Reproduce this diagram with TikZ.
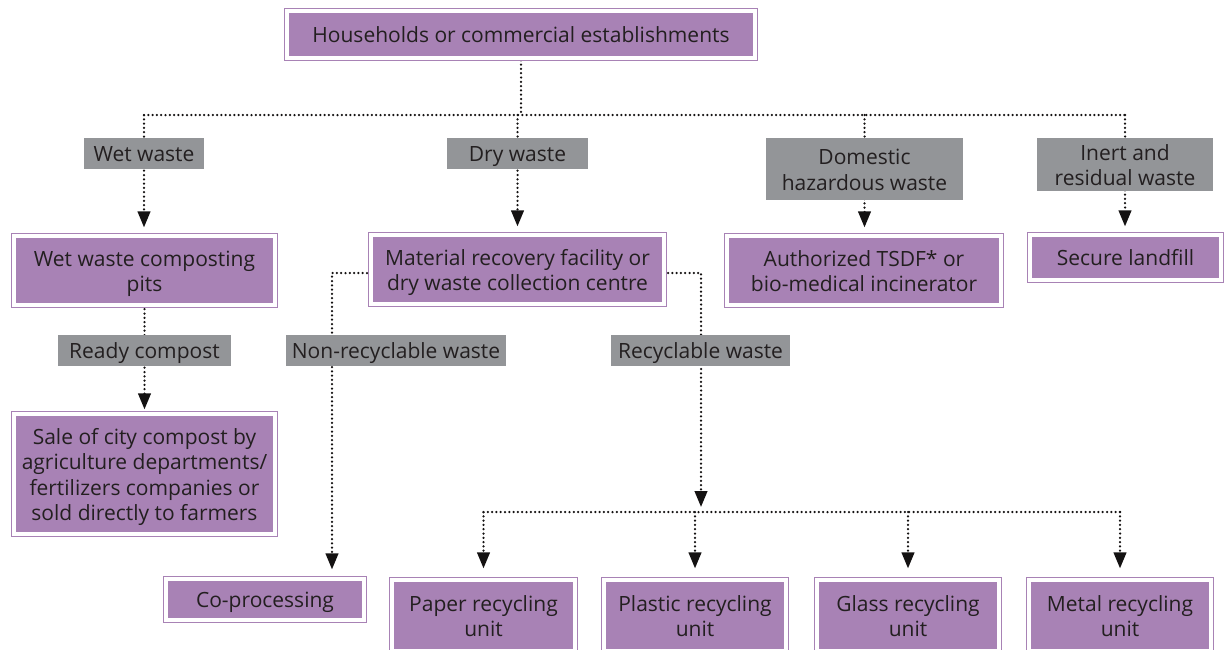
\documentclass[tikz,border=0pt]{standalone}
\usepackage{fontspec}
\setmainfont{Open Sans}
\usetikzlibrary{arrows.meta,backgrounds}
\definecolor{pur}{RGB}{168,130,181}
\definecolor{gry}{RGB}{147,149,152}
\definecolor{txt}{RGB}{35,31,32}
\definecolor{dotc}{RGB}{20,18,18}
\newcommand\Tx[1]{\raisebox{-3.2pt}[\height][\depth]{\begin{tabular}{@{}c@{}}#1\end{tabular}}}
\begin{document}
\begin{tikzpicture}[x=1pt,y=-1pt,
  every node/.style={font=\fontsize{21pt}{25.5pt}\selectfont, text=txt, inner sep=0pt},
  pbox/.style={fill=pur, draw=pur, line width=1.2pt, double=white, double distance=3.5pt},
  gbox/.style={fill=gry},
  dotl/.style={draw=dotc, line width=2.5pt, dash pattern=on 0pt off 4.3pt, line cap=round},
  arr/.style={dotl, -{Triangle[width=12.5pt,length=16pt]}},
]
\useasboundingbox (0,0) rectangle (1230,649);
\clip (0,0) rectangle (1230,649);

% purple boxes
\node[pbox, minimum width=468pt, minimum height=47pt] (top) at (521,34.5) {\Tx{Households or commercial establishments}};
\node[pbox, minimum width=261pt, minimum height=69pt] (wetpit) at (144.5,270.5) {\Tx{Wet waste composting\\pits}};
\node[pbox, minimum width=293pt, minimum height=69pt] (mrf) at (517.5,269.5) {\Tx{Material recovery facility or\\dry waste collection centre}};
\node[pbox, minimum width=274pt, minimum height=69pt] (tsdf) at (864,270.5) {\Tx{Authorized TSDF* or\\bio-medical incinerator}};
\node[pbox, minimum width=191pt, minimum height=45pt] (landfill) at (1125.5,257.5) {\Tx{Secure landfill}};
\node[pbox, minimum width=261pt, minimum height=120pt] (sale) at (144.5,474) {\Tx{Sale of city compost by\\agriculture departments/\\fertilizers companies or\\sold directly to farmers}};
\node[pbox, minimum width=198pt, minimum height=41pt] (coproc) at (265,599.5) {\raisebox{-2pt}{\Tx{Co-processing}}};
\node[pbox, minimum width=183pt, minimum height=71pt] (paper) at (483.5,615.5) {\Tx{Paper recycling\\unit}};
\node[pbox, minimum width=182pt, minimum height=71pt] (plastic) at (695,615.5) {\Tx{Plastic recycling\\unit}};
\node[pbox, minimum width=182pt, minimum height=71pt] (glass) at (908,615.5) {\Tx{Glass recycling\\unit}};
\node[pbox, minimum width=182pt, minimum height=71pt] (metal) at (1120,615.5) {\Tx{Metal recycling\\unit}};

% grey labels
\node[gbox, minimum width=120pt, minimum height=31pt] (wet) at (144,153.5) {\Tx{Wet waste}};
\node[gbox, minimum width=141pt, minimum height=31pt] (dry) at (517.5,153.5) {\Tx{Dry waste}};
\node[gbox, minimum width=197pt, minimum height=62pt] (haz) at (864.5,169) {\Tx{Domestic\\hazardous waste}};
\node[gbox, minimum width=176pt, minimum height=53pt] (inert) at (1125,164.5) {\Tx{Inert and\\residual waste}};
\node[gbox, minimum width=173pt, minimum height=31pt] (ready) at (144.5,350.5) {\Tx{Ready compost}};
\node[gbox, minimum width=220pt, minimum height=31pt] (nonrec) at (396,350.5) {\Tx{Non-recyclable waste}};
\node[gbox, minimum width=179pt, minimum height=31pt] (rec) at (700.5,350.5) {\Tx{Recyclable waste}};

\begin{scope}[on background layer]
\coordinate (busA) at (0,115);
\coordinate (nrx) at (332,273);
\coordinate (rx) at (701,273);
\coordinate (busB) at (0,512);
\draw[dotl] (top.center) -- (top.center |- busA);
\draw[dotl] (wet.center |- busA) -- (inert.center |- busA);
\draw[dotl] (wet.center |- busA) -- (wet.center);
\draw[dotl] (dry.center |- busA) -- (dry.center);
\draw[dotl] (haz.center |- busA) -- (haz.center);
\draw[dotl] (inert.center |- busA) -- (inert.center);
\draw[arr, shorten >=8pt] (wet.center) -- (wet.center |- wetpit.north);
\draw[arr, shorten >=8pt] (dry.center) -- (dry.center |- mrf.north);
\draw[arr, shorten >=8pt] (haz.center) -- (haz.center |- tsdf.north);
\draw[arr, shorten >=8pt] (inert.center) -- (inert.center |- landfill.north);
\draw[dotl] (wetpit.center) -- (wetpit.center |- ready.center);
\draw[arr, shorten >=4pt] (ready.center) -- (ready.center |- sale.north);
\draw[arr, shorten >=9pt] (mrf.center |- nrx) -- (nrx) -- (nrx |- coproc.north);
\draw[arr, shorten >=5pt] (mrf.center |- rx) -- (rx) -- (rx |- busB);
\draw[dotl] (paper.center |- busB) -- (metal.center |- busB);
\draw[arr, shorten >=11pt] (paper.center |- busB) -- (paper.north);
\draw[arr, shorten >=11pt] (plastic.center |- busB) -- (plastic.north);
\draw[arr, shorten >=11pt] (glass.center |- busB) -- (glass.north);
\draw[arr, shorten >=11pt] (metal.center |- busB) -- (metal.north);
\end{scope}
\end{tikzpicture}
\end{document}
